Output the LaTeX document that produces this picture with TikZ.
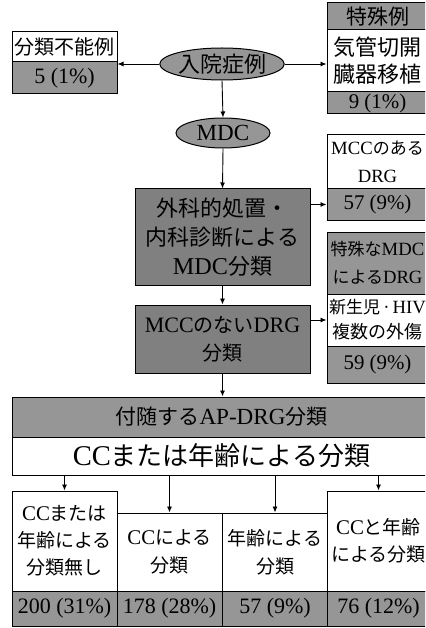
\documentclass[tikz,border=0pt]{standalone}
\usepackage{fontspec}
\setmainfont{Liberation Serif}[Scale=1.1]
\newfontfamily\cjk{Noto Sans CJK JP}
\usetikzlibrary{arrows.meta,shapes.geometric}
\newcommand{\J}[1]{{\cjk #1}}
\definecolor{stripg}{RGB}{150,150,150}
\definecolor{darkg}{RGB}{128,128,128}
\begin{document}
\begin{tikzpicture}[x=1pt,y=-1pt,
  box/.style={draw, line width=1pt, rectangle, inner sep=0pt, align=center},
  wbox/.style={box, fill=white},
  gbox/.style={box, fill=stripg},
  dbox/.style={box, fill=darkg},
  oval/.style={draw, line width=1pt, ellipse, fill=stripg, inner sep=0pt},
  fs/.style n args={2}{font=\fontsize{#1}{#2}\selectfont},
  arr/.style={line width=0.9pt, -{Latex[length=6pt,width=5pt]}}]
\useasboundingbox (0,0) rectangle (425,628);
\clip (0,0) rectangle (425,628);
\fill[white] (0,0) rectangle (425,628);

% left top
\node[wbox, minimum width=105pt, minimum height=30pt, fs={20}{24}] (nk1) at (64.5,47) {\J{分類不能例}};
\node[gbox, minimum width=105pt, minimum height=32pt, fs={20}{24}] (nk2) at (64.5,78) {5 (1\%)};

% ellipses
\node[oval, minimum width=110pt, minimum height=32pt, fs={22}{26}] (adm) at (222,64) {\J{入院症例}};
\node[oval, minimum width=94pt, minimum height=30pt, fs={21}{26}] (mdc) at (223,133) {MDC};

% special case box
\node[gbox, minimum width=101pt, minimum height=27pt, fs={21}{26}] (sp1) at (377.5,16.5) {\J{特殊例}};
\node[wbox, minimum width=101pt, minimum height=62pt, fs={22}{27}] (sp2) at (377.5,61) {\J{気管切開}\\\J{臓器移植}};
\node[gbox, minimum width=101pt, minimum height=22pt, fs={19}{24}] (sp3) at (377.5,103) {9 (1\%)};

% MCC box
\node[wbox, minimum width=101pt, minimum height=54pt, fs={17}{28}] (mc1) at (377.5,162) {MCC\J{のある}\\DRG};
\node[gbox, minimum width=101pt, minimum height=31pt, fs={19}{24}] (mc2) at (377.5,204.5) {57 (9\%)};

% central boxes
\node[dbox, minimum width=175pt, minimum height=96pt, fs={22}{29}] (surg) at (222.5,237) {\J{外科的処置・}\\\J{内科診断による}\\MDC\J{分類}};
\node[dbox, minimum width=175pt, minimum height=68pt, fs={20}{28}] (nomcc) at (222.5,339) {MCC\J{のない}DRG\\\J{分類}};

% special MDC box
\node[gbox, minimum width=101pt, minimum height=62pt, fs={17}{28}] (sm1) at (377.5,263) {\J{特殊な}MDC\\\J{による}DRG};
\node[wbox, minimum width=101pt, minimum height=52pt, fs={18}{25}] (sm2) at (377.5,320) {{\fontsize{17}{25}\selectfont\J{新生児}\,·\,HIV}\\\J{複数の外傷}};
\node[gbox, minimum width=101pt, minimum height=37pt, fs={19}{24}] (sm3) at (377.5,364.5) {59 (9\%)};

% AP-DRG
\node[gbox, minimum width=419pt, minimum height=40pt, fs={21}{26}] (ap1) at (221.5,417) {\J{付随する}AP-DRG\J{分類}};
\node[wbox, minimum width=419pt, minimum height=38pt, fs={26}{30}] (ap2) at (221.5,456) {CC\J{または年齢による分類}};

% bottom boxes
\node[wbox, minimum width=105pt, minimum height=100pt, fs={19}{27}] (b1) at (64.5,541) {CC\J{または}\\\J{年齢による}\\\J{分類無し}};
\node[wbox, minimum width=105pt, minimum height=78pt, fs={19}{28}] (b2) at (169.5,552) {CC\J{による}\\\J{分類}};
\node[wbox, minimum width=106pt, minimum height=78pt, fs={19}{28}] (b3) at (275,552) {\J{年齢による}\\\J{分類}};
\node[wbox, minimum width=103pt, minimum height=100pt, fs={19}{27}] (b4) at (378.5,541) {CC\J{と年齢}\\\J{による分類}};
\node[gbox, minimum width=105pt, minimum height=35pt, fs={20}{24}] (g1) at (64.5,608.5) {200 (31\%)};
\node[gbox, minimum width=105pt, minimum height=35pt, fs={20}{24}] (g2) at (169.5,608.5) {178 (28\%)};
\node[gbox, minimum width=106pt, minimum height=35pt, fs={20}{24}] (g3) at (275,608.5) {57 (9\%)};
\node[gbox, minimum width=103pt, minimum height=35pt, fs={20}{24}] (g4) at (378.5,608.5) {76 (12\%)};

% arrows
\draw[arr] (adm.west) -- (adm.west -| nk1.east);
\draw[arr] (adm.east) -- (adm.east -| sp2.west);
\draw[arr] (adm.south) -- (mdc.north);
\draw[arr] (mdc.south) -- (surg.north);
\draw[arr] (mc2.west -| surg.east) -- (mc2.west);
\draw[arr] (surg.south) -- (nomcc.north);
\draw[arr] (sm2.west -| nomcc.east) -- (sm2.west);
\draw[arr] (nomcc.south) -- (nomcc.south |- ap1.north);
\draw[arr] (b1.north |- ap2.south) -- (b1.north);
\draw[arr] (b2.north |- ap2.south) -- (b2.north);
\draw[arr] (b3.north |- ap2.south) -- (b3.north);
\draw[arr] (b4.north |- ap2.south) -- (b4.north);
\end{tikzpicture}
\end{document}
